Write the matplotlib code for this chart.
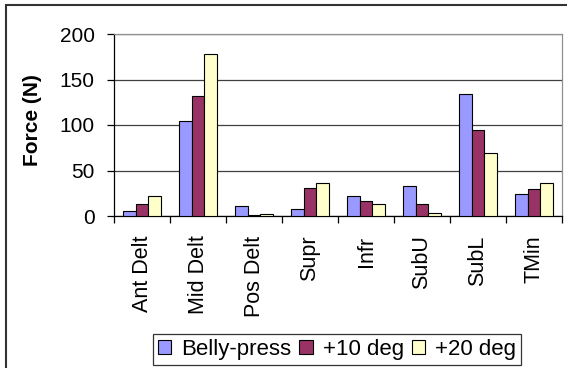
import matplotlib
matplotlib.use("Agg")
import matplotlib.pyplot as plt
import numpy as np
from matplotlib.patches import Rectangle

plt.rcParams['font.family'] = ['Liberation Sans', 'DejaVu Sans']

# Muscle categories and force values (N) for each test position
muscles = ["Ant Delt", "Mid Delt", "Pos Delt", "Supr", "Infr", "SubU", "SubL", "TMin"]
belly_press = [5, 104, 11, 8, 22, 33, 134, 24]
plus_10 = [13, 132, 1, 31, 16, 13, 94, 30]
plus_20 = [22, 178, 2, 36, 13, 3, 69, 36]
series_names = ["Belly-press", "+10 deg", "+20 deg"]
series_colors = ["#9999FF", "#993366", "#FFFFCC"]
y_ticks = [0, 50, 100, 150, 200]

fig = plt.figure(figsize=(5.67, 3.68), dpi=100)

# Outer chart frame
fig.patches.append(Rectangle((6 / 567, -0.05), 1.1, 1 - 5 / 368 + 0.05,
                             transform=fig.transFigure, fill=False,
                             edgecolor="#333333", linewidth=1.5, zorder=0))

ax = fig.add_axes([114 / 567, 1 - 216 / 368, 448 / 567, 182 / 368])

x = np.arange(len(muscles))
w = 0.227
for i, (vals, name, col) in enumerate(zip([belly_press, plus_10, plus_20],
                                          series_names, series_colors)):
    ax.bar(x + (i - 1) * w, vals, width=w, color=col, edgecolor="black",
           linewidth=0.8, label=name, zorder=3)

ax.set_xlim(-0.5, len(muscles) - 0.5)
ax.set_ylim(0, 200)
ax.set_yticks(y_ticks)
ax.set_yticklabels([str(v) for v in y_ticks], fontsize=15)
ax.yaxis.grid(True, color="#404040", linewidth=0.9, zorder=0)
ax.set_axisbelow(True)

ax.set_xticks(x)
ax.set_xticklabels(muscles, rotation=90, fontsize=15.5)
ax.set_xticks(np.arange(-0.5, len(muscles), 1.0), minor=True)
ax.tick_params(axis="x", which="major", length=0, pad=14)
ax.tick_params(axis="x", which="minor", length=5, width=0.9, direction="out")
ax.tick_params(axis="y", length=5, width=0.9, direction="out", pad=9)

for side in ["top", "right"]:
    ax.spines[side].set_color("#909090")
    ax.spines[side].set_linewidth(0.9)
for side in ["left", "bottom"]:
    ax.spines[side].set_color("black")
    ax.spines[side].set_linewidth(0.9)

fig.text(33 / 567, 1 - 120 / 368, "Force (N)", rotation=90, fontsize=15,
         fontweight="bold", ha="center", va="center")

leg = fig.legend(loc="center", bbox_to_anchor=(337 / 567, 1 - 349.5 / 368),
                 ncol=3, fontsize=16, frameon=True, fancybox=False,
                 edgecolor="black", handlelength=0.6, handleheight=0.6,
                 handletextpad=0.45, columnspacing=0.35, borderpad=0.22,
                 borderaxespad=0)
leg.get_frame().set_linewidth(0.9)

fig.savefig("out.png", dpi=100)
